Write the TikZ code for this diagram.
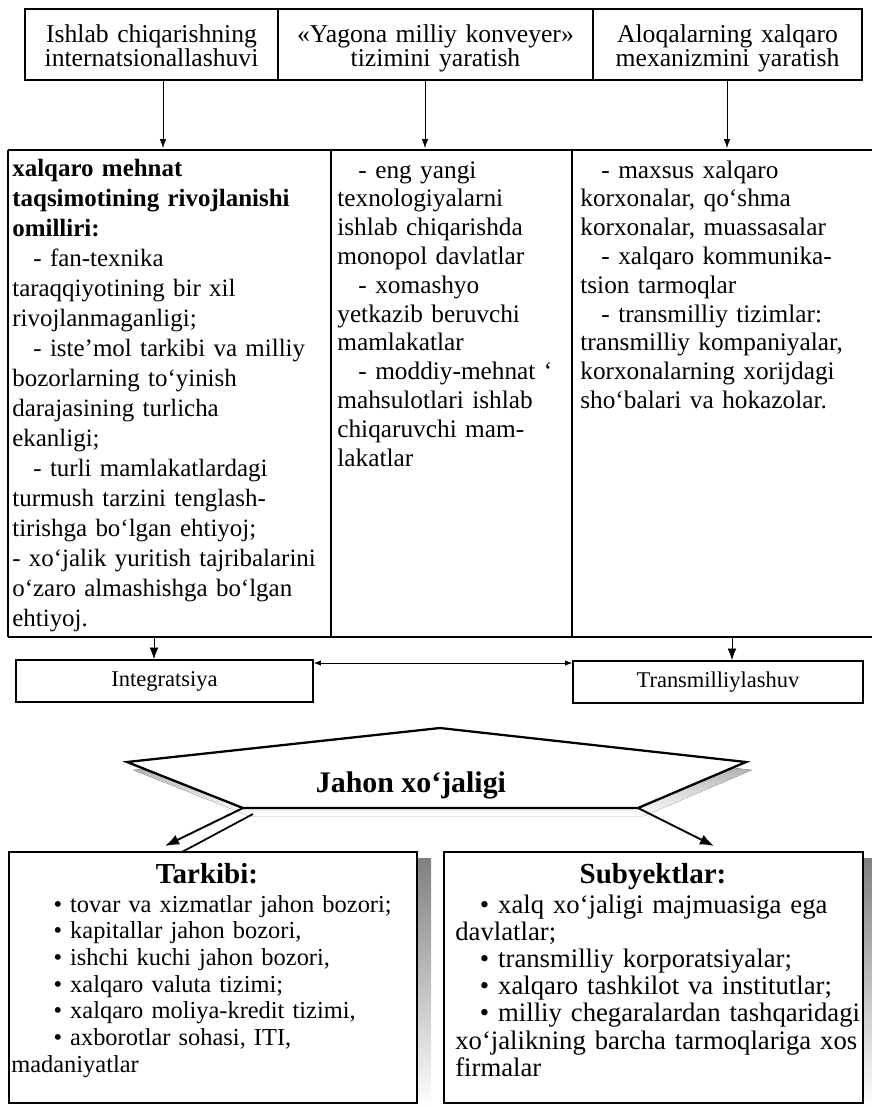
\documentclass[tikz,border=0pt]{standalone}
\usepackage{fontspec}
\setmainfont{Liberation Serif}
\usetikzlibrary{arrows.meta,positioning}
\newcommand\rowfont{\fontsize{14.6}{14.2}\selectfont}
\newcommand\colfont{\fontsize{14.2}{17.1}\selectfont}
\newcommand\midfont{\fontsize{14.4}{16.4}\selectfont}
\newcommand\tagfont{\fontsize{12.8}{14}\selectfont}
\newcommand\listfont{\fontsize{15.2}{15.5}\selectfont}
\newcommand\smalllist{\fontsize{13.9}{15.2}\selectfont}
\newcommand\panelfont{\fontsize{16.5}{18}\selectfont\bfseries}
\newcommand\jahonfont{\fontsize{17}{19}\selectfont\bfseries}
\newcommand\ind{\hspace*{12pt}}
\colorlet{shade}{black!42}
\tikzset{
  arr/.style={-{Latex[length=5pt,width=3.6pt]}},
  arrb/.style={-{Latex[length=6.5pt,width=5pt]}},
  dbl/.style={{Latex[length=4pt,width=3pt]}-{Latex[length=4pt,width=3pt]}},
  harr/.style={line width=1.1pt,-{Latex[length=8pt,width=6pt]}}
}
\begin{document}
\begin{tikzpicture}[x=0.02cm,y=-0.02cm,
  cell/.style={text width=#1,align=center,inner sep=0pt,anchor=base,font=\rowfont},
  col/.style={text width=#1,align=left,inner sep=0pt,anchor=base west,font=\midfont},
  tag/.style={draw,line width=0.9pt,minimum width=#1,minimum height=0.85cm,inner sep=0pt,font=\tagfont},
  panel/.style={draw,line width=1.4pt,fill=white,minimum width=#1,minimum height=5.02cm,inner sep=0pt},
  list/.style={text width=#1,align=left,inner sep=0pt,anchor=base west,font=\listfont}]
  \useasboundingbox (0,0) rectangle (872,1107);

  % top row
  \draw[line width=0.7pt] (25,9) rectangle (862,80);
  \draw[line width=0.7pt] (278,9) -- (278,80) (593,9) -- (593,80);
  \node[cell=150pt] (ishlab) at (151.5,42) {Ishlab chiqarishning\\internatsionallashuvi};
  \node[cell=175pt] (yagona) at (435.5,42) {«Yagona milliy konveyer»\\tizimini yaratish};
  \node[cell=150pt] (aloqa) at (727.5,42) {Aloqalarning xalqaro\\mexanizmini yaratish};

  % arrows into the table
  \foreach \x/\n in {163/a,425/b,727/c} {
    \coordinate (top\n) at (\x,80);
    \coordinate (tab\n) at (\x,148);
    \draw[arr] (top\n) -- (tab\n);
  }

  % table
  \draw[line width=0.6pt] (8,150) -- (872,150) (8,637) -- (872,637)
    (8,150) -- (8,637) (331,150) -- (331,637) (572,150) -- (572,637);
  \node[col=190pt,font=\colfont] (omil) at (12,176) {\textbf{xalqaro mehnat}\\
    \textbf{taqsimotining rivojlanishi}\\
    \textbf{omilliri:}\\
    \ind - fan-texnika\\
    taraqqiyotining bir xil\\
    rivojlanmaganligi;\\
    \ind - iste’mol tarkibi va milliy\\
    bozorlarning to‘yinish\\
    darajasining turlicha\\
    ekanligi;\\
    \ind - turli mamlakatlardagi\\
    turmush tarzini tenglash-\\
    tirishga bo‘lgan ehtiyoj;\\
    - xo‘jalik yuritish tajribalarini\\
    o‘zaro almashishga bo‘lgan\\
    ehtiyoj.};
  \node[col=140pt] (konv) at (337,178) {\ind - eng yangi\\
    texnologiyalarni\\
    ishlab chiqarishda\\
    monopol davlatlar\\
    \ind - xomashyo\\
    yetkazib beruvchi\\
    mamlakatlar\\
    \ind - moddiy-mehnat ‘\\
    mahsulotlari ishlab\\
    chiqaruvchi mam-\\
    lakatlar};
  \node[col=170pt] (mexan) at (580,178) {\ind - maxsus xalqaro\\
    korxonalar, qo‘shma\\
    korxonalar, muassasalar\\
    \ind - xalqaro kommunika-\\
    tsion tarmoqlar\\
    \ind - transmilliy tizimlar:\\
    transmilliy kompaniyalar,\\
    korxonalarning xorijdagi\\
    sho‘balari va hokazolar.};

  % integratsiya / transmilliylashuv
  \node[tag=5.94cm] (integ) at (164.5,681) {Integratsiya};
  \node[tag=5.8cm] (transm) at (718,682) {Transmilliylashuv};
  \coordinate (lb) at (154,637);
  \coordinate (rb) at (732,637);
  \coordinate (mid) at (440,663);
  \draw[arrb] (lb) -- (lb |- integ.north);
  \draw[arrb] (rb) -- (rb |- transm.north);
  \draw[dbl] (mid -| integ.east) -- (mid -| transm.west);

  % jahon xo'jaligi
  \coordinate (hl) at (127,762);
  \coordinate (ht) at (440,728);
  \coordinate (hr) at (746,762);
  \coordinate (hbr) at (638,808);
  \coordinate (hbl) at (243,808);
  \fill[shade] ([shift={(6,8)}]hl) -- ([shift={(6,8)}]ht) -- ([shift={(6,8)}]hr)
    -- ([shift={(6,8)}]hbr) -- ([shift={(6,8)}]hbl) -- cycle;
  \filldraw[fill=white,line width=1.3pt] (hl) -- (ht) -- (hr) -- (hbr) -- (hbl) -- cycle;
  \node[font=\jahonfont] (jahon) at (411,785) {Jahon xo‘jaligi};
  \coordinate (tl) at (165,846);
  \coordinate (tr) at (714,846);
  \draw[shade,line width=1pt] ([shift={(10,6)}]hbl) -- ([shift={(17,6)}]tl);
  \draw[harr] (hbl) -- (tl);
  \draw[harr] (hbr) -- (tr);

  % bottom panels
  \fill[shade] (417,858) rectangle (431,1107);
  \fill[shade] (863,858) rectangle (872,1107);
  \node[panel=8.16cm] (tark) at (213,977.5) {};
  \node[panel=8.38cm] (subj) at (653.5,977.5) {};
  \node[anchor=base,font=\panelfont] (tarkh) at (207,883) {Tarkibi:};
  \node[anchor=base,font=\panelfont] (subjh) at (653,883) {Subyektlar:};
  \node[list=250pt,font=\smalllist] (tarkl) at (11,912) {\hspace*{24pt}• tovar va xizmatlar jahon bozori;\\
    \hspace*{24pt}• kapitallar jahon bozori,\\
    \hspace*{24pt}• ishchi kuchi jahon bozori,\\
    \hspace*{24pt}• xalqaro valuta tizimi;\\
    \hspace*{24pt}• xalqaro moliya-kredit tizimi,\\
    \hspace*{24pt}• axborotlar sohasi, ITI,\\
    madaniyatlar};
  \node[list=245pt] (subjl) at (455,913) {\hspace*{14pt}• xalq xo‘jaligi majmuasiga ega\\
    davlatlar;\\
    \hspace*{14pt}• transmilliy korporatsiyalar;\\
    \hspace*{14pt}• xalqaro tashkilot va institutlar;\\
    \hspace*{14pt}• milliy chegaralardan tashqaridagi\\
    xo‘jalikning barcha tarmoqlariga xos\\
    firmalar};
\end{tikzpicture}
\end{document}
